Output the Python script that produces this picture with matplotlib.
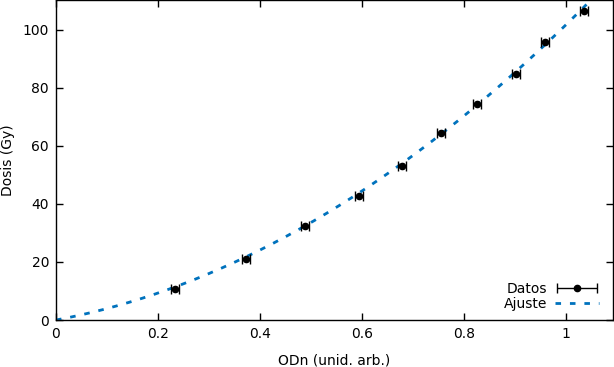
import numpy as np
import matplotlib.pyplot as plt
from matplotlib.legend_handler import HandlerErrorbar
from matplotlib.container import ErrorbarContainer

# datos
odn = [0.233, 0.373, 0.488, 0.594, 0.678, 0.755, 0.825, 0.902, 0.959, 1.035]
dosis = [10.7, 21.0, 32.4, 42.8, 53.1, 64.5, 74.5, 84.8, 95.9, 106.6]
odn_err = [0.008] * 10

# ajuste cuadratico D = a*x^2 + b*x
a_fit = 69.1
b_fit = 32.7

xticks = [0, 0.2, 0.4, 0.6, 0.8, 1.0]
xtick_labels = ['0', '0.2', '0.4', '0.6', '0.8', '1']
yticks = [0, 20, 40, 60, 80, 100]

plt.rcParams['font.family'] = ['DejaVu Sans']
fig = plt.figure(figsize=(6.14, 3.67), dpi=100)
ax = fig.add_axes([0.0912, 0.128, 0.9072, 0.872])

xf = np.linspace(0, 1.1, 300)
ax.plot(xf, a_fit * xf**2 + b_fit * xf, color='#0072bd', lw=2,
        dashes=(2, 3.2), label='Ajuste', zorder=2)
ax.errorbar(odn, dosis, xerr=odn_err, fmt='o', color='black',
            ms=4.5, elinewidth=1, capsize=3.5, capthick=1, label='Datos', zorder=3)

ax.set_xlim(0, 1.092)
ax.set_ylim(0, 110.3)
ax.set_xticks(xticks)
ax.set_xticklabels(xtick_labels)
ax.set_yticks(yticks)
ax.tick_params(direction='in', top=True, right=True, length=5, width=1,
               labelsize=10, pad=5)
for s in ax.spines.values():
    s.set_linewidth(1)
ax.set_xlabel('ODn (unid. arb.)', fontsize=10, labelpad=9)
ax.set_ylabel('Dosis (Gy)', fontsize=10)
ax.yaxis.set_label_coords(-0.074, 0.5)

h, l = ax.get_legend_handles_labels()
leg = ax.legend(h[::-1], l[::-1], loc='lower right', bbox_to_anchor=(0.991, 0.0),
                frameon=False, fontsize=10,
                markerfirst=False, handlelength=3.2, borderaxespad=0.25,
                labelspacing=0.1, handletextpad=0.5,
                handler_map={ErrorbarContainer: HandlerErrorbar(xerr_size=1.45)})

fig.savefig('out.png', dpi=100)
